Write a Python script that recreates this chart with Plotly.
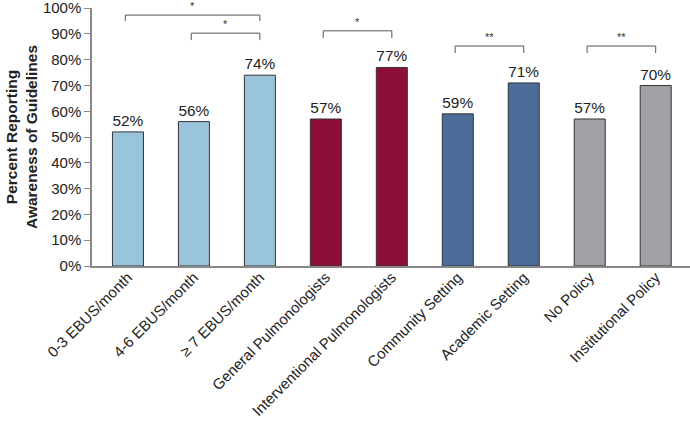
import plotly.graph_objects as go

categories = ["0-3 EBUS/month", "4-6 EBUS/month", "≥ 7 EBUS/month", "General Pulmonologists",
              "Interventional Pulmonologists", "Community Setting", "Academic Setting",
              "No Policy", "Institutional Policy"]
values = [52, 56, 74, 57, 77, 59, 71, 57, 70]
colors = ["#99C4DB", "#99C4DB", "#99C4DB", "#8B0F3A", "#8B0F3A",
          "#4C6D9A", "#4C6D9A", "#A0A1A5", "#A0A1A5"]
# significance brackets: (left index, right index, top y, leg bottom y, label)
brackets = [(0, 2, 97.3, 95.0, "*"), (1, 2, 90.3, 87.6, "*"), (3, 4, 91.2, 88.4, "*"),
            (5, 6, 85.3, 82.6, "**"), (7, 8, 85.3, 82.6, "**")]
ytitle = "<b>Percent Reporting<br>Awareness of Guidelines</b>"

font = "Liberation Sans, Arial, Helvetica, sans-serif"
xs = list(range(len(categories)))

fig = go.Figure()
fig.add_trace(go.Bar(
    x=xs, y=values, width=0.47,
    marker=dict(color=colors, line=dict(color="#333333", width=1)),
    text=[f"{v}%" for v in values], textposition="outside",
    textfont=dict(size=15.5, color="#222222", family=font),
    cliponaxis=False, showlegend=False,
))

shapes = []
annotations = []
for a, b, top, bot, lab in brackets:
    shapes.append(dict(type="path", xref="x", yref="y",
                       path=f"M {a-0.04},{bot} L {a-0.04},{top} L {b},{top} L {b},{bot}",
                       line=dict(color="#555555", width=1)))
    annotations.append(dict(x=(a - 0.04 + b) / 2, y=top, xref="x", yref="y", text=lab,
                            showarrow=False, yanchor="bottom", yshift=1,
                            font=dict(size=11, color="#333333", family=font)))
annotations.append(dict(x=0, y=0.5, xref="paper", yref="paper", text=ytitle,
                        textangle=-90, showarrow=False, xanchor="center", yanchor="middle",
                        xshift=-71, font=dict(size=15.5, color="#222222", family=font)))

fig.update_layout(
    width=690, height=427,
    margin=dict(l=92, r=0, t=8, b=161),
    plot_bgcolor="white", paper_bgcolor="white",
    font=dict(family=font, color="#222222"),
    shapes=shapes, annotations=annotations,
)
fig.update_xaxes(
    tickvals=xs, ticktext=categories, tickangle=-45, range=[-0.545, 8.52],
    showline=True, linecolor="#888888", linewidth=1.5, ticks="", automargin=False,
    ticklabeloverflow="allow", ticklabelstandoff=-5,
    tickfont=dict(size=15, color="#222222", family=font), showgrid=False, zeroline=False,
)
fig.update_yaxes(
    range=[0, 100.05], tickvals=list(range(0, 101, 10)), ticktext=[f"{v}%" for v in range(0, 101, 10)],
    showline=True, linecolor="#888888", linewidth=1.5, ticks="outside", ticklen=6,
    tickcolor="#888888", tickfont=dict(size=15, color="#222222", family=font),
    showgrid=False, zeroline=False, automargin=False, ticklabeloverflow="allow",
)

fig.write_html("out.html", config={"displayModeBar": False},
               post_script="document.body.style.margin='0';document.body.style.overflow='hidden';")
